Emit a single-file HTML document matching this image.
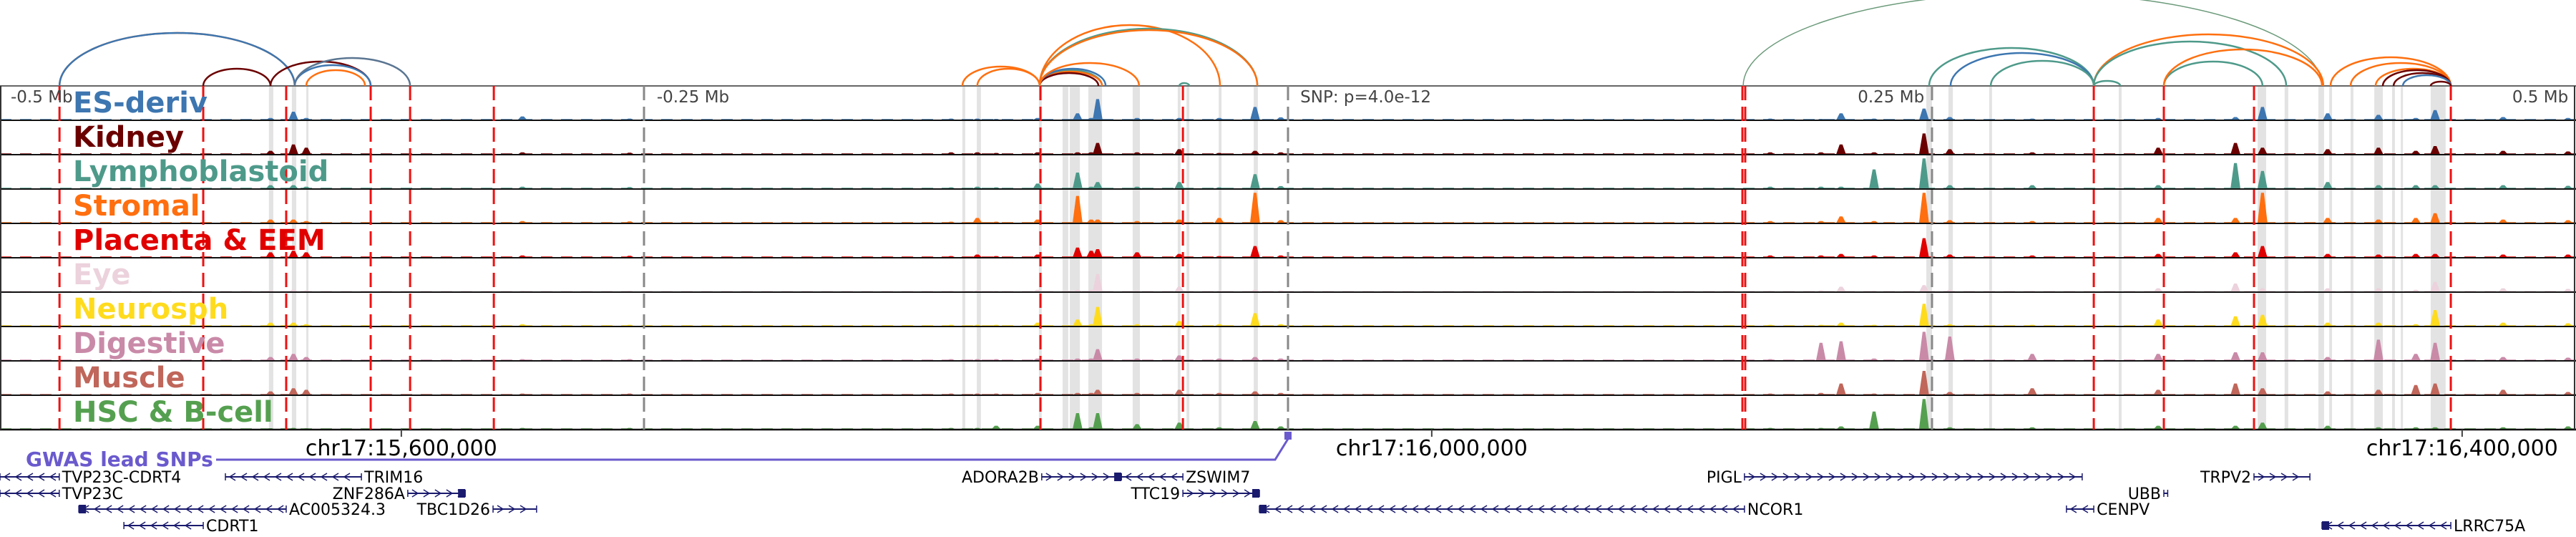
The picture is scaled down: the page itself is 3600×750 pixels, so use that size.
<!DOCTYPE html>
<html><head><meta charset="utf-8">
<style>
html,body{margin:0;padding:0;background:#fff;}
svg{display:block;font-family:"DejaVu Sans","Liberation Sans",sans-serif;}
</style></head>
<body>
<svg id="chart" width="3600" height="750" viewBox="0 0 3600 750" xmlns="http://www.w3.org/2000/svg">
<g id="bands"></g>
<g id="signals"></g>
<g id="frames"></g>
<g id="vlines"></g>
<g id="arcs"></g>
<g id="labels"></g>
<g id="axis"></g>
<g id="genes"></g>
</svg>
<script>
// ---- data (positions in kb from window start; window = 1000 kb) ----
const trackNames = ["ES-deriv","Kidney","Lymphoblastoid","Stromal","Placenta & EEM","Eye","Neurosph","Digestive","Muscle","HSC & B-cell"];
const trackColors = ["#3d76b0","#6b0000","#4e9a8a","#ff6f0f","#e00000","#ecd2dc","#ffdb1e","#c98aa8","#c0665a","#55a050"];
const peakLoci = [105.0,113.9,118.9,202.8,244.4,369.2,379.4,386.7,402.8,418.3,423.6,426.1,441.4,457.8,473.3,487.2,497.2,687.2,706.9,714.7,727.5,746.9,756.9,788.9,837.8,867.8,878.3,903.6,923.3,937.8,945.3,971.7,996.9];
const esValues  = [.05,.25,.05,.1,.03,.03,.03,.02,.05,.2,.05,.65,.05,.05,.05,.4,.07,.03,.02,.2,.03,.35,.08,.03,.05,.08,.4,.2,.15,.05,.3,.08,.05];
const kidValues = [.1,.3,.2,.05,.04,.05,.05,.03,.05,.05,.05,.35,.05,.15,.03,.1,.05,.05,.05,.3,.05,.65,.15,.05,.2,.35,.2,.15,.2,.1,.25,.1,.08];
const lymValues = [.1,.1,.05,.05,.04,.03,.05,.03,.15,.5,.05,.2,.05,.2,.03,.45,.07,.05,.05,.05,.6,.95,.1,.1,.1,.8,.55,.2,.1,.1,.1,.1,.08];
const strValues = [.1,.1,.05,.05,.04,.03,.15,.03,.1,.85,.1,.1,.05,.1,.15,.95,.08,.05,.05,.2,.05,.95,.08,.05,.15,.15,.95,.15,.1,.15,.3,.1,.08];
const plaValues = [.15,.2,.15,.05,.04,.03,.08,.03,.08,.3,.2,.25,.15,.1,.03,.35,.05,.05,.05,.1,.05,.6,.08,.05,.1,.15,.35,.1,.08,.1,.1,.08,.08];
const eyeValues = [.03,.05,.03,.02,.02,.02,.03,.02,.05,.05,.05,.55,.02,.15,.02,.05,.03,.02,.03,.15,.02,.2,.05,.02,.1,.25,.1,.1,.1,.05,.3,.1,.08];
const neuValues = [.1,.1,.05,.05,.03,.03,.03,.03,.1,.2,.05,.6,.05,.15,.05,.4,.05,.03,.03,.1,.03,.7,.05,.03,.2,.3,.35,.1,.1,.05,.5,.1,.08];
const digValues = [.1,.2,.1,.03,.03,.03,.03,.03,.05,.05,.05,.35,.05,.15,.05,.1,.05,.03,.55,.6,.05,.9,.75,.2,.2,.25,.25,.1,.65,.2,.55,.1,.08];
const musValues = [.1,.2,.15,.03,.03,.03,.03,.03,.05,.05,.05,.15,.05,.15,.05,.1,.05,.03,.05,.35,.03,.75,.08,.2,.15,.35,.2,.1,.15,.3,.35,.15,.08];
const hscValues = [.02,.03,.02,.03,.03,.03,.03,.1,.1,.5,.05,.5,.15,.2,.05,.25,.08,.03,.03,.08,.55,.95,.05,.05,.1,.1,.2,.1,.05,.05,.05,.05,.08];
const redLineLoci = [23.1,78.9,111.1,143.9,159.2,191.7,403.9,459.2,676.4,677.5,812.8,840,875,951.4];
const greyLineLoci = [250,500,750];
const bandStarts = [104.4,113.3,118.9,373.6,379.2,403.3,412.5,415.3,422.5,439.7,457.2,460.6,473.1,486.7,747.8,756.4,772.2,822.5,876.4,886.9,900,904.2,912.5,921.7,928.6,932,943.6];
const bandEnds   = [106.1,115,119.7,374.7,380.8,404.4,414.7,419.2,427.8,442.5,458.3,461.7,474.2,488.3,750,758.1,773.3,823.6,879.7,888.3,902.2,905.3,913.6,925,929.7,932.8,949.4];
const arcStarts  = [23.1,23.1,78.9,105,114.4,114.4,118.9,373.6,379.4,403.6,403.6,403.6,403.6,403.6,403.6,403.6,403.6,457.8,676.7,748.9,757.2,772.8,812.8,812.8,812.8,840,840,904.7,912.5,922.2,925,929.2,932.8,943.6];
const arcEnds    = [114.4,114.4,105,143.9,143.9,159.2,141.7,403.6,403.6,427.8,427.8,426.4,429.2,442.2,473.6,488.1,488.1,461.7,901.4,812.8,812.8,812.8,823.1,901.9,887.5,878.3,901.4,951.4,951.4,951.4,951.4,951.4,951.4,951.4];
const arcHeights = [74,74,24,34,29,39,22,27,24,22,20,18,24,32,85,80,78,4,130,53,46,35,7,72,62,34,51,40,32,24,22,18,15,6];
const arcColors  = ["#ff6f0f","#3d76b0","#6b0000","#6b0000","#3d76b0","#5a7591","#ff6f0f","#ff6f0f","#ff6f0f","#4e9a8a","#ff6f0f","#6b0000","#3d76b0","#ff6f0f","#ff6f0f","#4e9a8a","#ff6f0f","#4e9a8a","#6b9a7a","#4e9a8a","#3d76b0","#4e9a8a","#4e9a8a","#ff6f0f","#4e9a8a","#4e9a8a","#ff6f0f","#ff6f0f","#ff6f0f","#ff6f0f","#6b0000","#6b0000","#3d76b0","#6b0000"];
const axisTickLoci = [155.8,555.8,955.8];
const axisTickLabels = ["chr17:15,600,000","chr17:16,000,000","chr17:16,400,000"];
const relLabels = ["-0.5 Mb","-0.25 Mb","SNP: p=4.0e-12","0.25 Mb","0.5 Mb"];
const relLabelLoci = [2.5,253.3,503.1,747,997];
const relLabelAnchor = ["start","start","start","end","end"];
const snpLocus = 500;

const allValues = [esValues,kidValues,lymValues,strValues,plaValues,eyeValues,neuValues,digValues,musValues,hscValues];
const NS="http://www.w3.org/2000/svg";
const X = kb => kb*3.6;
const TOP=120, TH=48, NT=10, BOT=TOP+TH*NT;
const Y = (t,v) => TOP+TH*(t+1)-1 - v*44;
function mk(tag,attrs,parent){const e=document.createElementNS(NS,tag);for(const k in attrs)e.setAttribute(k,attrs[k]);parent.appendChild(e);return e;}
const G=id=>document.getElementById(id);

bandStarts.forEach((s,i)=>{
  const r=mk('rect',{x:X(s),y:TOP+1,width:Math.max(3,X(bandEnds[i])-X(s)),height:TH*NT-1,fill:'#e3e3e3'},G('bands'));
  
  
});

allValues.forEach((vals,t)=>{
  const g=mk('g',{},G('signals'));
  
  
  const base=Y(t,0);
  mk('line',{x1:0,y1:base,x2:3600,y2:base,stroke:trackColors[t],'stroke-width':1.5,'stroke-dasharray':'16 12'},g);
  peakLoci.forEach((p,i)=>{
    const x=X(p), y=Y(t,vals[i]);
    const pk=mk('polygon',{points:`${x-7},${base+1} ${x-2},${y} ${x+2},${y} ${x+7},${base+1}`,fill:trackColors[t]},g);
    
    
  });
});

for(let t=0;t<=NT;t++){
  mk('line',{x1:0,y1:TOP+TH*t,x2:3600,y2:TOP+TH*t,stroke:t==0?'#666':'#111','stroke-width':t==NT?2.5:2},G('frames'));
}
mk('line',{x1:1,y1:TOP,x2:1,y2:BOT,stroke:'#333','stroke-width':2},G('frames'));
mk('line',{x1:3598,y1:TOP,x2:3598,y2:BOT,stroke:'#333','stroke-width':2},G('frames'));

redLineLoci.forEach(p=>{
  const l=mk('line',{x1:X(p),y1:TOP,x2:X(p),y2:BOT,stroke:'#ee1111','stroke-width':3,'stroke-dasharray':'20 9'},G('vlines'));
  
  
});
greyLineLoci.forEach(p=>{
  const l=mk('line',{x1:X(p),y1:TOP,x2:X(p),y2:BOT,stroke:'#888','stroke-width':3,'stroke-dasharray':'20 9'},G('vlines'));
  
  
});

const clip=mk('clipPath',{id:'arcclip'},G('arcs'));
mk('rect',{x:0,y:0,width:3600,height:TOP},clip);
const ag=mk('g',{'clip-path':'url(#arcclip)'},G('arcs'));
arcStarts.forEach((s,i)=>{
  const x1=X(s),x2=X(arcEnds[i]),rx=(x2-x1)/2,h=arcHeights[i];
  const a=mk('path',{d:`M${x1},${TOP} A${rx},${h} 0 0 1 ${x2},${TOP}`,fill:'none',stroke:arcColors[i],'stroke-width':h>100?1.5:2.5},ag);
  
  
});

trackNames.forEach((n,t)=>{
  const tx=mk('text',{x:102,y:TOP+TH*t+37,fill:trackColors[t],'font-size':40,'font-weight':'bold'},G('labels'));
  tx.textContent=n;
  
  
});
relLabels.forEach((n,i)=>{
  const tx=mk('text',{x:X(relLabelLoci[i])+(relLabelAnchor[i]=='start'?6:0),y:143,fill:'#444','font-size':23,'text-anchor':relLabelAnchor[i]},G('labels'));
  tx.textContent=n;
  
  
});

axisTickLoci.forEach((p,i)=>{
  mk('line',{x1:X(p),y1:BOT,x2:X(p),y2:BOT+10,stroke:'#444','stroke-width':2},G('axis'));
  const tx=mk('text',{x:X(p),y:636,'font-size':30,'text-anchor':'middle',fill:'#000'},G('axis'));
  tx.textContent=axisTickLabels[i];
  
  
});

const gw=mk('text',{x:36,y:651,'font-size':28,'font-weight':'bold',fill:'#6a5acd'},G('genes'));
gw.textContent='GWAS lead SNPs';


mk('polyline',{points:`302,642 ${X(snpLocus)-18},642 ${X(snpLocus)},613`,fill:'none',stroke:'#6a5acd','stroke-width':3},G('genes'));
const sq=mk('rect',{x:X(snpLocus)-5,y:603,width:10,height:11,fill:'#6a5acd'},G('genes'));



const geneNames = ["TVP23C-CDRT4","TRIM16","ADORA2B","ZSWIM7","PIGL","TRPV2","TVP23C","ZNF286A","TTC19","UBB","AC005324.3","TBC1D26","NCOR1","CENPV","CDRT1","LRRC75A"];
const geneStart = [0,87.5,404.4,435.3,677.2,875,0,158.3,459.2,840,30.6,191.4,488.9,802.2,48.1,901.4];
const geneEnd   = [23,140.3,435.3,459.2,808.3,896.7,23,180.6,488.9,841.5,111.1,208.3,677.2,812.8,78.9,951.4];
const geneRow   = [0,0,0,0,0,0,1,1,1,1,2,2,2,2,3,3];
const geneStrand= [-1,-1,1,-1,1,1,-1,1,1,1,-1,1,-1,-1,-1,-1];
const geneSide  = ["r","r","l","r","l","l","r","l","l","l","r","l","r","r","r","r"];
const geneBox   = [0,0,1,0,0,0,0,1,1,0,1,0,1,0,0,1];
const rowY=[666,689,711,734];
geneNames.forEach((n,i)=>{
  const g=mk('g',{},G('genes'));
  
  
  const x1=X(geneStart[i]),x2=X(geneEnd[i]),y=rowY[geneRow[i]];
  mk('line',{x1,y1:y,x2,y2:y,stroke:'#1a1a6e','stroke-width':2},g);
  mk('line',{x1:x1,y1:y-5,x2:x1,y2:y+5,stroke:'#1a1a6e','stroke-width':1.5},g);
  mk('line',{x1:x2,y1:y-5,x2:x2,y2:y+5,stroke:'#1a1a6e','stroke-width':1.5},g);
  for(let x=x1+10;x<x2-6;x+=16){
    const d=geneStrand[i];
    mk('polyline',{points:`${x-4*d},${y-5} ${x+4*d},${y} ${x-4*d},${y+5}`,fill:'none',stroke:'#1a1a6e','stroke-width':1.5},g);
  }
  const bx = geneStrand[i]<0 ? x1 : x2-10;
  if(geneBox[i]) mk('rect',{x:bx,y:y-6,width:10,height:12,fill:'#1a1a6e'},g);
  const tx=mk('text',{x:geneSide[i]=='r'?x2+4:x1-4,y:y+8,'font-size':22,fill:'#000','text-anchor':geneSide[i]=='r'?'start':'end'},g);
  tx.textContent=n;
});
</script>
</body></html>
